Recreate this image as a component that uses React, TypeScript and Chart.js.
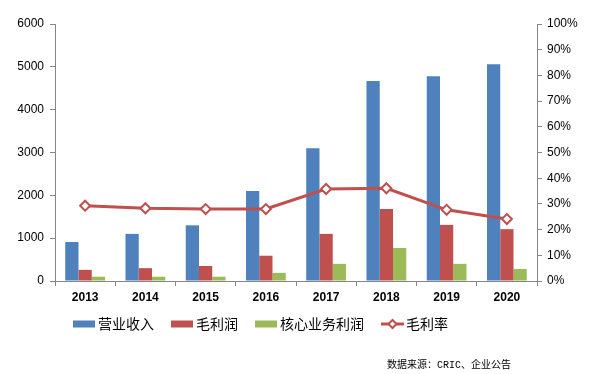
import React, { useEffect, useRef } from 'react';
import { Chart, registerables } from 'chart.js';
Chart.register(...registerables);

const years = ['2013', '2014', '2015', '2016', '2017', '2018', '2019', '2020'];
const revenue = [910, 1100, 1300, 2100, 3100, 4670, 4780, 5060];
const grossProfit = [260, 300, 350, 590, 1100, 1680, 1310, 1210];
const coreProfit = [100, 100, 100, 190, 400, 770, 400, 280];
const grossMargin = [29.3, 28.3, 28.0, 28.0, 35.8, 36.1, 27.7, 24.1];
const seriesNames = ['营业收入', '毛利润', '核心业务利润', '毛利率'];
const sourceText = '数据来源：CRIC、企业公告';

const BLUE = '#4F81BD';
const RED = '#C0504D';
const GREEN = '#9BBB59';
const AXIS = '#868686';

const legendPlugin = {
  id: 'customLegend',
  afterDraw(chart: any) {
    const ctx = chart.ctx;
    ctx.save();
    let x = 73;
    const y = 324;
    ctx.font = '14px "Noto Sans CJK SC"';
    ctx.textBaseline = 'middle';
    ctx.textAlign = 'left';
    chart.data.datasets.forEach((ds: any) => {
      if (ds.type === 'line') {
        ctx.strokeStyle = ds.borderColor;
        ctx.lineWidth = 3;
        ctx.beginPath();
        ctx.moveTo(x, y);
        ctx.lineTo(x + 23, y);
        ctx.stroke();
        const cx = x + 11.5;
        const r = 4;
        ctx.beginPath();
        ctx.moveTo(cx, y - r);
        ctx.lineTo(cx + r, y);
        ctx.lineTo(cx, y + r);
        ctx.lineTo(cx - r, y);
        ctx.closePath();
        ctx.fillStyle = '#fff';
        ctx.fill();
        ctx.lineWidth = 2;
        ctx.stroke();
        x += 25;
      } else {
        ctx.fillStyle = ds.backgroundColor;
        ctx.fillRect(x, y - 3.5, 22, 7);
        x += 25;
      }
      ctx.fillStyle = '#000';
      ctx.fillText(ds.label, x, y);
      x += ctx.measureText(ds.label).width + 17;
    });
    ctx.font = '10px "Liberation Mono", "Noto Sans CJK SC"';
    ctx.textAlign = 'right';
    ctx.fillText(sourceText, 511, 365);
    ctx.restore();
  },
};

export default function App() {
  const ref = useRef<HTMLCanvasElement>(null);
  useEffect(() => {
    if (!ref.current) return;
    const chart = new Chart(ref.current, {
      type: 'bar',
      data: {
        labels: years,
        datasets: [
          { type: 'bar', label: seriesNames[0], data: revenue, backgroundColor: BLUE, yAxisID: 'y', order: 1 },
          { type: 'bar', label: seriesNames[1], data: grossProfit, backgroundColor: RED, yAxisID: 'y', order: 1 },
          { type: 'bar', label: seriesNames[2], data: coreProfit, backgroundColor: GREEN, yAxisID: 'y', order: 1 },
          {
            type: 'line', label: seriesNames[3], data: grossMargin, borderColor: RED, borderWidth: 3,
            backgroundColor: '#fff', pointStyle: 'rectRot', pointRadius: 5, pointBorderWidth: 2,
            pointBackgroundColor: '#fff', pointBorderColor: RED, yAxisID: 'y1', order: 0,
          } as any,
        ],
      },
      options: {
        responsive: false,
        animation: false,
        layout: { padding: { top: 24, left: 0, right: 0, bottom: 0 } },
        datasets: { bar: { categoryPercentage: 0.66, barPercentage: 1 } },
        plugins: { legend: { display: false }, tooltip: { enabled: false } },
        scales: {
          x: {
            offset: true,
            grid: { display: true, drawOnChartArea: false, tickLength: 5, color: AXIS, offset: true },
            border: { color: AXIS, width: 1 },
            ticks: { color: '#000', padding: 4, font: { family: '"Liberation Sans", Arial, sans-serif', size: 12, weight: 'bold' } },
            afterFit(s: any) { s.height = 93; },
          },
          y: {
            position: 'left', min: 0, max: 6000,
            grid: { display: true, drawOnChartArea: false, tickLength: 5, color: AXIS },
            border: { color: AXIS, width: 1 },
            ticks: { stepSize: 1000, color: '#000', padding: 6, font: { family: '"Liberation Sans", Arial, sans-serif', size: 12 }, callback: (v: any) => String(v) },
            afterFit(s: any) { s.width = 55; },
          },
          y1: {
            position: 'right', min: 0, max: 100,
            grid: { display: true, drawOnChartArea: false, tickLength: 5, color: AXIS },
            border: { color: AXIS, width: 1 },
            ticks: { stepSize: 10, color: '#000', padding: 5, font: { family: '"Liberation Sans", Arial, sans-serif', size: 12 }, callback: (v: any) => v + '%' },
            afterFit(s: any) { s.width = 74; },
          },
        },
      } as any,
      plugins: [legendPlugin],
    });
    return () => chart.destroy();
  }, []);
  return (
    <div style={{ position: 'fixed', left: 0, top: 0, width: 611, height: 374, background: '#fff' }}>
      <canvas ref={ref} width={611} height={374} style={{ width: 611, height: 374 }} />
    </div>
  );
}
